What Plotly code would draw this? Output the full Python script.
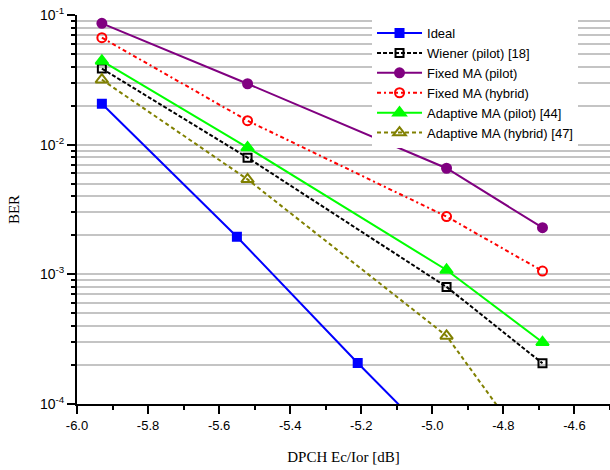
import plotly.graph_objects as go

# Data
x_main = [-5.93, -5.52, -4.96, -4.69]
x_ideal = [-5.93, -5.55, -5.21, -4.96]

ber_ideal = [0.0207, 0.00195, 2.07e-4, 4.2e-5]
ber_wiener = [0.0386, 0.00794, 8.0e-4, 2.06e-4]
ber_fixed_pilot = [0.0863, 0.0295, 0.00658, 0.00229]
ber_fixed_hybrid = [0.0668, 0.0153, 0.00279, 0.00106]
ber_adapt_pilot = [0.0442, 0.0095, 0.00108, 2.99e-4]
ber_adapt_hybrid = [0.0317, 0.0054, 3.35e-4, 3.2e-5]

x_ticks = [-6.0, -5.8, -5.6, -5.4, -5.2, -5.0, -4.8, -4.6]
x_ticklabels = ["-6.0", "-5.8", "-5.6", "-5.4", "-5.2", "-5.0", "-4.8", "-4.6"]
x_minor = [-5.9, -5.7, -5.5, -5.3, -5.1, -4.9, -4.7, -4.5]
y_ticks = [1e-4, 1e-3, 1e-2, 1e-1]
y_ticklabels = ["10<sup>-4</sup>", "10<sup>-3</sup>", "10<sup>-2</sup>", "10<sup>-1</sup>"]
y_minor = [m * d for d in (1e-4, 1e-3, 1e-2) for m in range(2, 10)]

series = [
    ("Ideal", x_ideal, ber_ideal, "#0000ff", "solid", "square", 8),
    ("Wiener (pilot) [18]", x_main, ber_wiener, "#000000", "4px,2px", "square-open", 8),
    ("Fixed MA (pilot)", x_main, ber_fixed_pilot, "#800080", "solid", "circle", 9),
    ("Fixed MA (hybrid)", x_main, ber_fixed_hybrid, "#ff0000", "4px,3px,2px,3px", "circle-open", 9),
    ("Adaptive MA (pilot) [44]", x_main, ber_adapt_pilot, "#00ff00", "solid", "triangle-up", 11),
    ("Adaptive MA (hybrid) [47]", x_main, ber_adapt_hybrid, "#808000", "4px,3px", "triangle-up-open", 11),
]

fig = go.Figure()
for name, xs, ys, color, dash, sym, size in series:
    fig.add_trace(go.Scatter(
        x=xs, y=ys, name=name, mode="lines+markers",
        line=dict(color=color, width=2, dash=dash),
        marker=dict(symbol=sym, size=size, color=color,
                    line=dict(color=color, width=2)),
    ))

fig.update_layout(
    width=610, height=470,
    margin=dict(l=77, r=0, t=15, b=66),
    paper_bgcolor="white", plot_bgcolor="white",
    font=dict(family="Liberation Sans, Arial", size=14, color="black"),
    showlegend=True,
    legend=dict(
        x=0.5535, y=0.992, xanchor="left", yanchor="top",
        bgcolor="white", borderwidth=0,
        font=dict(family="Liberation Sans, Arial", size=13, color="black"),
        itemwidth=45, tracegroupgap=0,
    ),
    xaxis=dict(
        range=[-6.0, -4.5], showgrid=False, zeroline=False,
        showline=True, linecolor="black", linewidth=2,
        tickmode="array", tickvals=x_ticks, ticktext=x_ticklabels,
        ticks="outside", ticklen=8, tickwidth=2, tickcolor="black",
        tickfont=dict(family="Liberation Sans, Arial", size=13),
        minor=dict(tickmode="array", tickvals=x_minor, ticks="outside",
                   ticklen=4, tickwidth=2, tickcolor="black", showgrid=False),
        title=dict(text="DPCH Ec/Ior [dB]",
                   font=dict(family="Liberation Serif, Times New Roman", size=15),
                   standoff=20),
    ),
    yaxis=dict(
        type="log", range=[-4, -1], zeroline=False,
        showline=True, linecolor="black", linewidth=2,
        tickmode="array", tickvals=y_ticks, ticktext=y_ticklabels,
        ticks="outside", ticklen=8, tickwidth=2, tickcolor="black",
        showgrid=True, gridcolor="#c4c4c4", gridwidth=2,
        tickfont=dict(family="Liberation Sans, Arial", size=14),
        minor=dict(tickmode="array", tickvals=y_minor, ticks="outside",
                   ticklen=4, tickwidth=2, tickcolor="black",
                   showgrid=True, gridcolor="#c4c4c4", gridwidth=2),
        title=dict(text="BER",
                   font=dict(family="Liberation Serif, Times New Roman", size=15),
                   standoff=17),
    ),
)

fig.write_html("out.html")
